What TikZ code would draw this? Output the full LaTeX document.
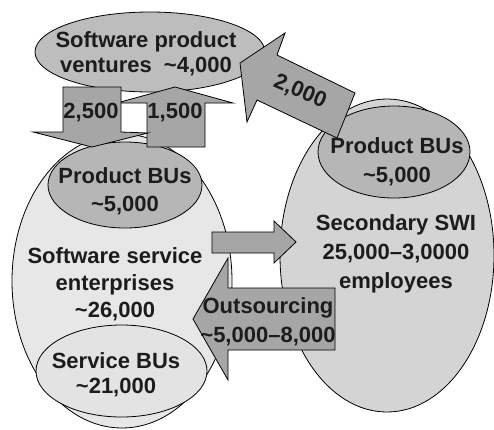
\documentclass[tikz,border=0pt]{standalone}
\usepackage{fontspec}
\setmainfont{Liberation Sans}
\usetikzlibrary{shapes.geometric}

\definecolor{ventfill}{RGB}{189,189,189}
\definecolor{arrowfill}{RGB}{166,166,166}
\definecolor{lightfill}{RGB}{231,231,231}
\definecolor{midfill}{RGB}{212,212,212}
\definecolor{bufill}{RGB}{182,182,182}
\definecolor{servfill}{RGB}{227,227,227}
\definecolor{inkgray}{RGB}{28,28,28}

\begin{document}
\begin{tikzpicture}[x=1pt, y=-1pt,
  blob/.style={ellipse, draw=black, line width=0.8pt, inner sep=0pt},
  blockarrow/.style={draw=black, line width=0.8pt, fill=arrowfill, line join=miter},
  caption/.style={font=\bfseries\fontsize{22}{#1}\selectfont, align=center,
    text=inkgray, inner sep=0pt},
  caption/.default=26]
\useasboundingbox (0,0) rectangle (494,429);

% secondary software industry
\node[blob, fill=midfill, minimum width=214pt, minimum height=313pt] (swi) at (387,255.5) {};
\node[blob, fill=bufill, minimum width=152pt, minimum height=92pt] (swibu) at (394,152) {};

% software service enterprises
\node[blob, fill=lightfill, minimum width=220pt, minimum height=294pt] (sse) at (122,281) {};
\node[blob, fill=bufill, minimum width=154pt, minimum height=86pt] (ssebu) at (125,185) {};
\node[blob, fill=servfill, minimum width=171pt, minimum height=92pt] (servbu) at (121.5,371) {};

% software product ventures
\node[blob, fill=ventfill, minimum width=230pt, minimum height=80pt] (spv) at (150,52) {};

% block arrows
\draw[blockarrow] (240,63) -- (285,33) -- (277,55) -- (355,93) -- (337,138)
  -- (257,100) -- (247,122) -- cycle;
\draw[blockarrow] (175,87) -- (233,103) -- (205,103) -- (205,147) -- (147,147)
  -- (147,103) -- (117,103) -- cycle;
\draw[blockarrow] (63,87) -- (121,87) -- (121,132) -- (148,133) -- (92,147)
  -- (33,132) -- (63,132) -- cycle;
\draw[blockarrow] (212,232) -- (274,232) -- (274,221) -- (296,242) -- (274,263)
  -- (274,253) -- (212,253) -- cycle;
\draw[blockarrow] (193,319) -- (228,258) -- (228,288) -- (335,288) -- (335,350)
  -- (228,350) -- (228,380) -- cycle;

% labels
\node[caption=25] (tspv) at (146,54) {Software product\\ventures\ \ \textasciitilde4,000};
\node[caption] (t2500) at (91,113) {2,500};
\node[caption] (t1500) at (175,113) {1,500};
\node[caption, rotate=-23] (t2000) at (300,92) {2,000};
\node[caption=28] (tssebu) at (125,191) {Product BUs\\\textasciitilde5,000};
\node[caption=27] (tsse) at (115,284) {Software service\\enterprises\\\textasciitilde26,000};
\node[caption=25] (tservbu) at (116,375) {Service BUs\\\textasciitilde21,000};
\node[caption=29] (tswibu) at (397,162) {Product BUs\\\textasciitilde5,000};
\node[caption=29] (tswi) at (396,254) {Secondary SWI\\25,000–3,0000\\employees};
\node[caption=29] (tout) at (268,322) {Outsourcing\\\textasciitilde5,000–8,000};
\end{tikzpicture}
\end{document}
